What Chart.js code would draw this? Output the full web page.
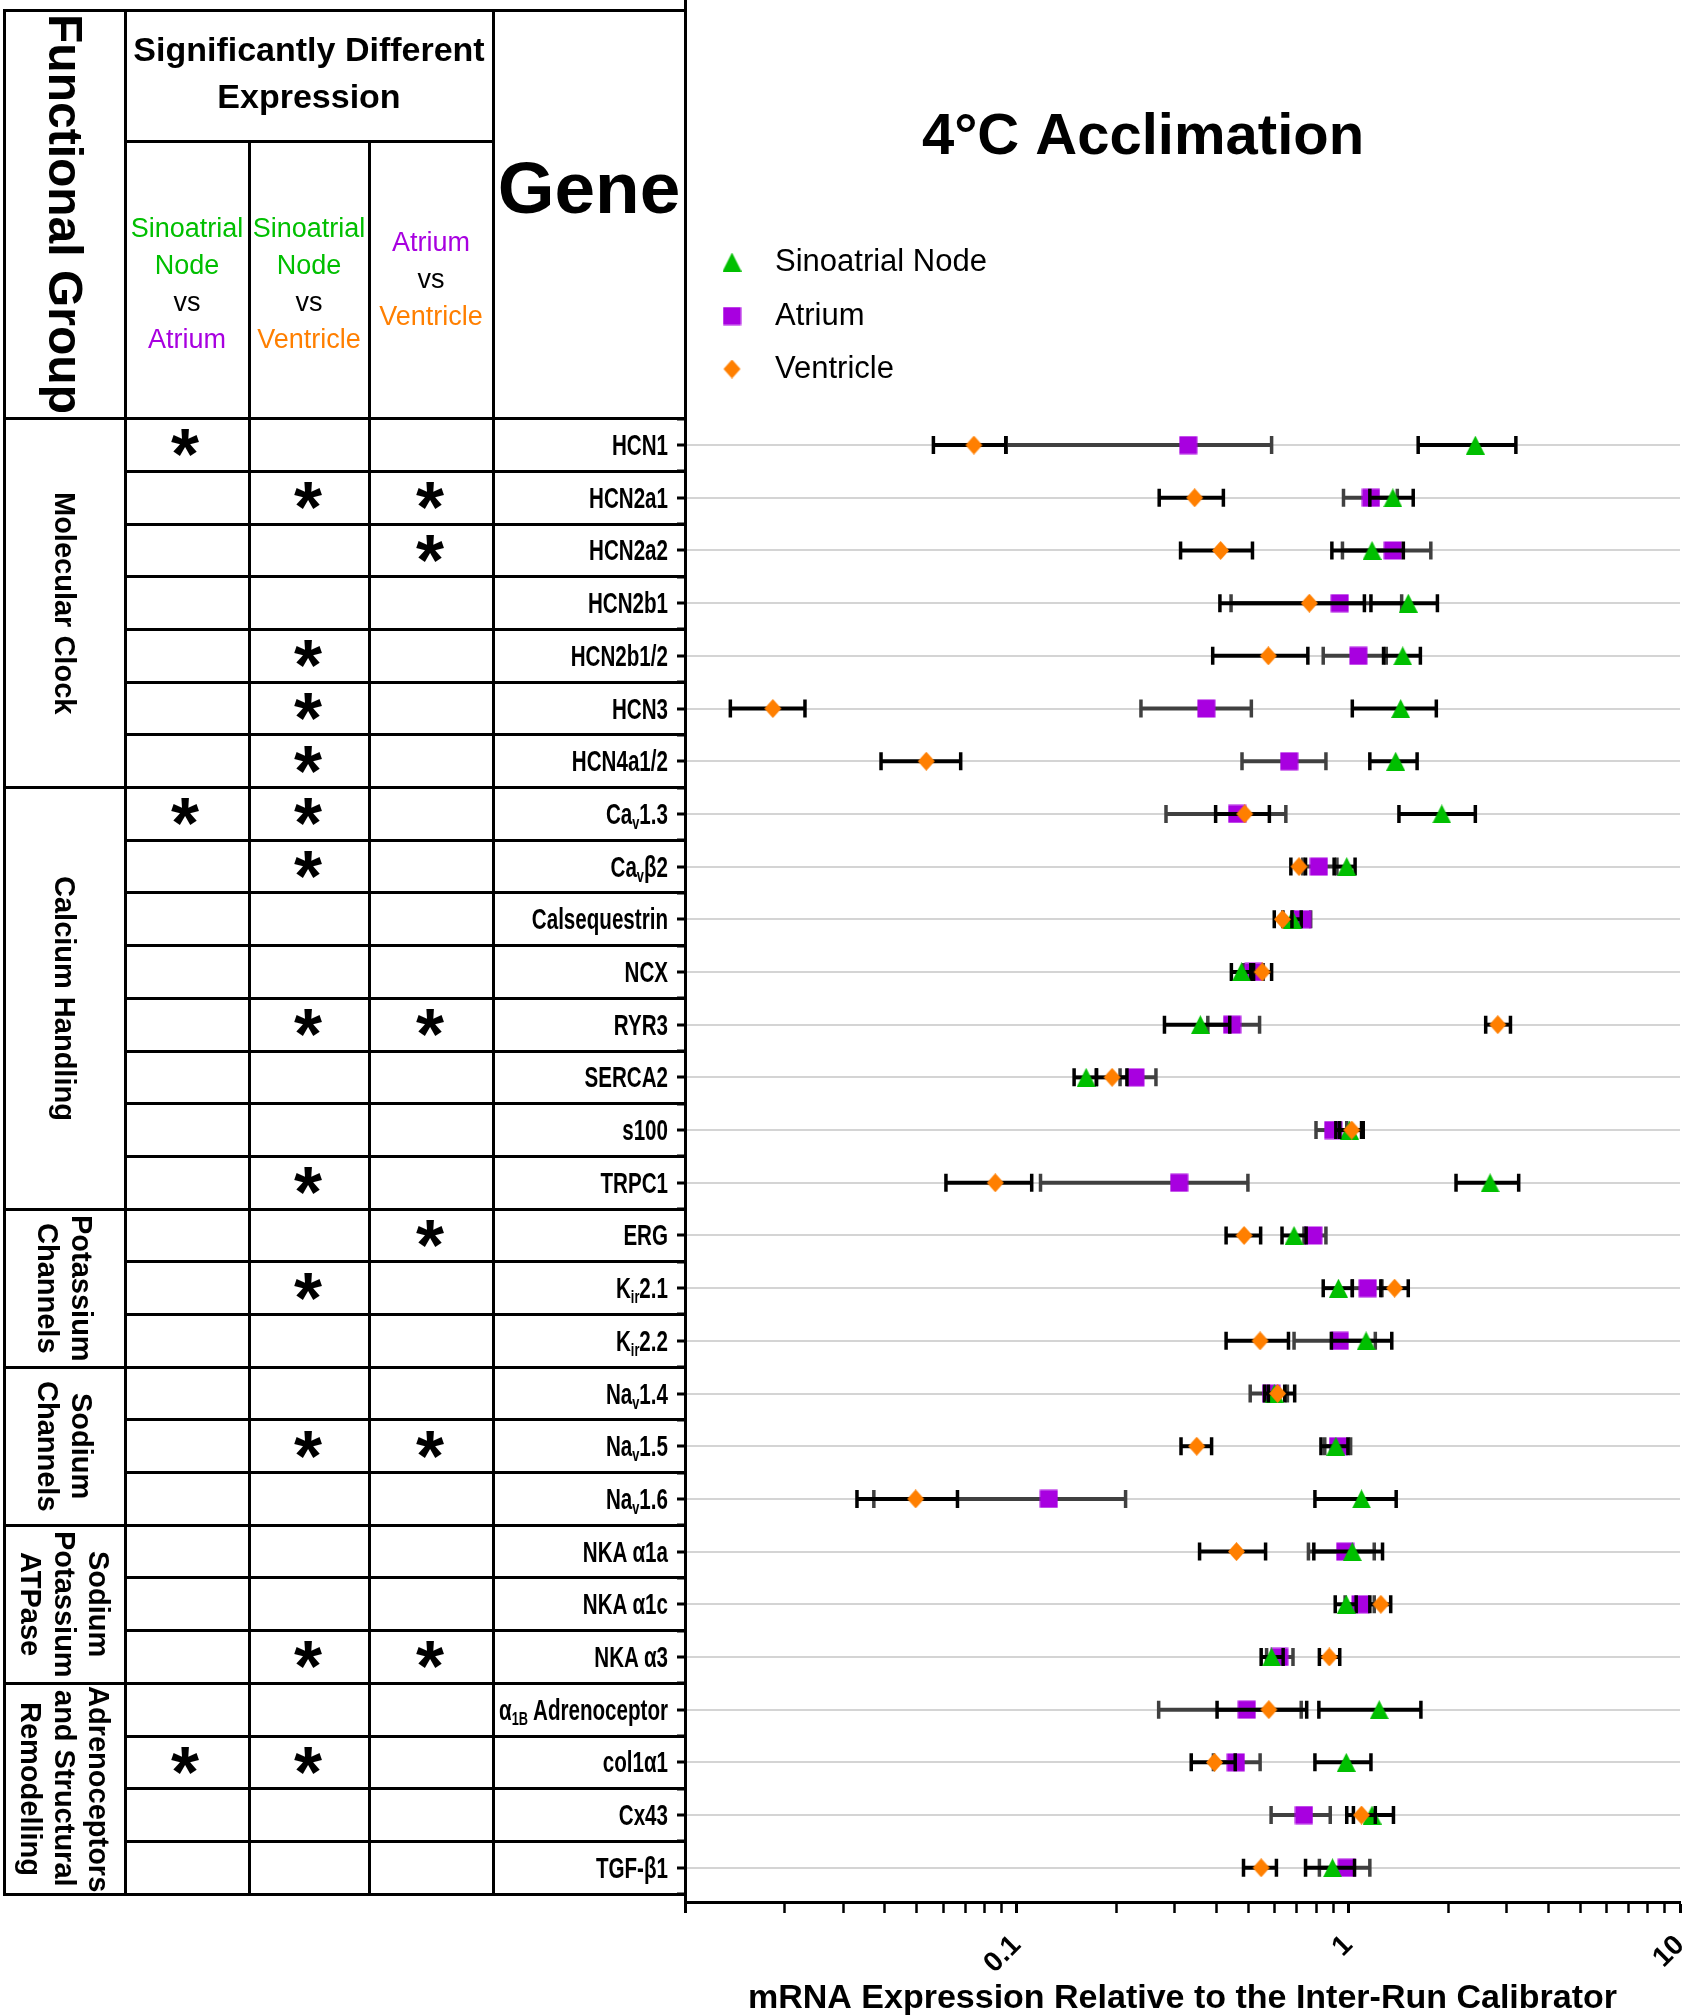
<!DOCTYPE html>
<html>
<head>
<meta charset="utf-8">
<script src="https://cdn.jsdelivr.net/npm/chart.js@4.4.1/dist/chart.umd.min.js"></script>
<style>
  html, body { margin: 0; padding: 0; background: #fff; }
  #wrap { position: relative; width: 1690px; height: 2015px; overflow: hidden; font-family: "Liberation Sans", Arial, sans-serif; color: #000; }
  #chart { position: absolute; left: 0; top: 0; }
  #overlay { position: absolute; left: 0; top: 0; width: 1690px; height: 2015px; pointer-events: none; }
  #overlay > div { position: absolute; }
  .line { background: #000; }
  .cell { display: flex; align-items: center; justify-content: center; text-align: center; }
  .vert { writing-mode: vertical-rl; white-space: pre-line; text-align: center; }
  .gene { font-weight: bold; font-size: 29px; line-height: 34px; height: 34px; text-align: right; white-space: nowrap; transform: scaleX(0.71); transform-origin: right center; }
  .gene sub { font-size: 0.62em; vertical-align: -5px; line-height: 0; }
  .star { font-weight: bold; text-align: center; }
  .g { color: #00bf00; }
  .p { color: #a800e0; }
  .o { color: #ff7f00; }
</style>
</head>
<body>
<div id="wrap">
  <canvas id="chart" width="1690" height="2015"></canvas>
  <div id="overlay"></div>
</div>
<script>
// genes (top to bottom) and functional groups
const genes = ['HCN1', 'HCN2a1', 'HCN2a2', 'HCN2b1', 'HCN2b1/2', 'HCN3', 'HCN4a1/2',
  'Ca<sub>v</sub>1.3', 'Ca<sub>v</sub>β2', 'Calsequestrin', 'NCX', 'RYR3', 'SERCA2', 's100', 'TRPC1',
  'ERG', 'K<sub>ir</sub>2.1', 'K<sub>ir</sub>2.2',
  'Na<sub>v</sub>1.4', 'Na<sub>v</sub>1.5', 'Na<sub>v</sub>1.6',
  'NKA α1a', 'NKA α1c', 'NKA α3',
  'α<sub>1B</sub> Adrenoceptor', 'col1α1', 'Cx43', 'TGF-β1'];
const groupNames = ['Molecular Clock', 'Calcium Handling', 'Potassium\nChannels', 'Sodium\nChannels',
  'Sodium\nPotassium\nATPase', 'Adrenoceptors\nand Structural\nRemodelling'];
const groupSizes = [7, 8, 3, 3, 3, 4];

// significance marks (1 = *)
const sigSanAtrium = [1,0,0,0,0,0,0, 1,0,0,0,0,0,0,0, 0,0,0, 0,0,0, 0,0,0, 0,1,0,0];
const sigSanVentricle = [0,1,0,0,1,1,1, 1,1,0,0,1,0,0,1, 0,1,0, 0,1,0, 0,0,1, 0,1,0,0];
const sigAtriumVentricle = [0,1,1,0,0,0,0, 0,0,0,0,1,0,0,0, 1,0,0, 0,1,0, 0,0,1, 0,0,0,0];

// relative mRNA expression, mean and error bar ends
const sanMean = [2.415, 1.362, 1.179, 1.516, 1.459, 1.438, 1.389, 1.913, 0.989, 0.678, 0.476, 0.358, 0.162, 1.008, 2.676, 0.686, 0.934, 1.131, 0.598, 0.917, 1.096, 1.028, 0.986, 0.587, 1.239, 0.986, 1.179, 0.896];
const sanLow = [1.624, 1.161, 0.892, 1.170, 1.277, 1.028, 1.161, 1.421, 0.906, 0.635, 0.444, 0.279, 0.149, 0.917, 2.112, 0.631, 0.840, 0.889, 0.559, 0.827, 0.793, 0.787, 0.913, 0.546, 0.815, 0.793, 1.036, 0.743];
const sanHigh = [3.20, 1.569, 1.465, 1.856, 1.649, 1.842, 1.612, 2.415, 1.048, 0.721, 0.508, 0.439, 0.174, 1.096, 3.263, 0.746, 1.028, 1.352, 0.643, 0.997, 1.394, 1.268, 1.056, 0.636, 1.655, 1.170, 1.368, 1.044];

const atriumMean = [0.329, 1.170, 1.362, 0.942, 1.072, 0.373, 0.663, 0.462, 0.815, 0.726, 0.518, 0.446, 0.228, 0.900, 0.309, 0.784, 1.144, 0.942, 0.585, 0.931, 0.125, 0.978, 1.088, 0.619, 0.494, 0.458, 0.735, 0.989];
const atriumLow = [0.093, 0.967, 0.960, 0.443, 0.840, 0.237, 0.478, 0.282, 0.729, 0.680, 0.483, 0.377, 0.205, 0.799, 0.118, 0.735, 1.028, 0.686, 0.506, 0.849, 0.0371, 0.758, 0.978, 0.567, 0.268, 0.392, 0.585, 0.818];
const atriumHigh = [0.587, 1.405, 1.773, 1.448, 1.301, 0.510, 0.856, 0.648, 0.924, 0.770, 0.554, 0.540, 0.263, 0.989, 0.498, 0.856, 1.263, 1.206, 0.655, 1.016, 0.213, 1.197, 1.197, 0.681, 0.721, 0.542, 0.882, 1.161];

const ventMean = [0.0743, 0.344, 0.412, 0.763, 0.574, 0.0184, 0.0534, 0.487, 0.710, 0.633, 0.550, 2.822, 0.194, 1.024, 0.0862, 0.485, 1.379, 0.542, 0.612, 0.349, 0.0496, 0.460, 1.253, 0.876, 0.576, 0.395, 1.096, 0.546];
const ventLow = [0.0561, 0.269, 0.312, 0.410, 0.390, 0.0137, 0.0390, 0.398, 0.671, 0.598, 0.518, 2.595, 0.174, 0.942, 0.0612, 0.428, 1.253, 0.428, 0.574, 0.313, 0.0330, 0.356, 1.161, 0.818, 0.402, 0.336, 0.989, 0.483];
const ventHigh = [0.0927, 0.420, 0.514, 1.118, 0.755, 0.0230, 0.0678, 0.578, 0.743, 0.676, 0.587, 3.082, 0.215, 1.109, 0.111, 0.544, 1.516, 0.660, 0.689, 0.387, 0.0663, 0.563, 1.342, 0.942, 0.749, 0.456, 1.206, 0.607];

// x axis ticks
const xTicks = [0.01, 0.02, 0.03, 0.04, 0.05, 0.06, 0.07, 0.08, 0.09,
  0.1, 0.2, 0.3, 0.4, 0.5, 0.6, 0.7, 0.8, 0.9,
  1, 2, 3, 4, 5, 6, 7, 8, 9, 10];
const xMajor = [0.01, 0.1, 1, 10];
const xTickLabels = ['0.1', '1', '10'];

const GREEN = '#00bf00', PURPLE = '#a800e0', ORANGE = '#ff7f00';

// marker shapes as small canvases
function markerImg(shape, color) {
  const c = document.createElement('canvas');
  c.width = 19; c.height = 19;
  const g = c.getContext('2d');
  g.fillStyle = color;
  g.beginPath();
  if (shape === 'triangle') {
    g.moveTo(9.5, 0); g.lineTo(19, 19); g.lineTo(0, 19);
  } else if (shape === 'square') {
    g.rect(0.5, 0.5, 18, 18);
  } else {
    g.moveTo(9.5, 0); g.lineTo(18, 9.5); g.lineTo(9.5, 19); g.lineTo(1, 9.5);
  }
  g.closePath();
  g.fill();
  return c;
}

function series(label, mean, low, high, shape, color, barColor, order) {
  return {
    label: label,
    data: mean.map((v, i) => ({ x: v, y: i + 1 })),
    errLow: low,
    errHigh: high,
    barColor: barColor,
    pointStyle: markerImg(shape, color),
    pointRadius: 9,
    backgroundColor: color,
    borderColor: color,
    showLine: false,
    order: order
  };
}

// horizontal error bars, drawn under each series' own markers
const errorBars = {
  id: 'errorBars',
  beforeDatasetDraw(chart, args) {
    const ds = chart.data.datasets[args.index];
    const xs = chart.scales.x, ys = chart.scales.y, ctx = chart.ctx;
    ctx.save();
    ctx.strokeStyle = ds.barColor;
    ds.data.forEach((p, i) => {
      const x0 = xs.getPixelForValue(ds.errLow[i]);
      const x1 = xs.getPixelForValue(ds.errHigh[i]);
      const y = ys.getPixelForValue(p.y);
      ctx.lineWidth = 4;
      ctx.beginPath();
      ctx.moveTo(x0, y); ctx.lineTo(x1, y);
      ctx.stroke();
      ctx.lineWidth = 3.5;
      ctx.beginPath();
      ctx.moveTo(x0, y - 9); ctx.lineTo(x0, y + 9);
      ctx.moveTo(x1, y - 9); ctx.lineTo(x1, y + 9);
      ctx.stroke();
    });
    ctx.restore();
  }
};

// vertical legend above the plot
const sideLegend = {
  id: 'sideLegend',
  afterDraw(chart) {
    const ctx = chart.ctx;
    const rows = [262, 316, 369];
    ctx.save();
    ctx.font = '31px "Liberation Sans", Arial, sans-serif';
    ctx.fillStyle = '#000';
    ctx.textBaseline = 'middle';
    chart.data.datasets.forEach((ds, i) => {
      const img = ds.pointStyle;
      ctx.drawImage(img, 732 - img.width / 2, rows[i] - img.height / 2);
      ctx.fillText(ds.label, 775, rows[i]);
    });
    ctx.restore();
  }
};

const chart = new Chart(document.getElementById('chart'), {
  type: 'scatter',
  data: {
    datasets: [
      series('Sinoatrial Node', sanMean, sanLow, sanHigh, 'triangle', GREEN, '#000', 1),
      series('Atrium', atriumMean, atriumLow, atriumHigh, 'square', PURPLE, '#404040', 2),
      series('Ventricle', ventMean, ventLow, ventHigh, 'diamond', ORANGE, '#000', 0)
    ]
  },
  options: {
    responsive: false,
    animation: false,
    devicePixelRatio: 1,
    layout: { padding: { left: 596, right: 0, top: 0, bottom: 0 } },
    plugins: {
      legend: { display: false },
      tooltip: { enabled: false },
      title: {
        display: true,
        text: '4°C Acclimation',
        color: '#000',
        font: { family: '"Liberation Sans", Arial, sans-serif', size: 58, weight: 'bold', lineHeight: 1.2 },
        padding: { top: 103, bottom: 234 }
      }
    },
    scales: {
      x: {
        type: 'logarithmic',
        position: 'bottom',
        min: 0.01,
        max: 10,
        afterBuildTicks: (scale) => { scale.ticks = xTicks.map(v => ({ value: v })); },
        afterFit: (scale) => { scale.height = 113; scale.paddingRight = 9; scale.paddingLeft = 0; },
        border: { color: '#000', width: 3 },
        grid: {
          drawOnChartArea: false,
          tickLength: 11,
          tickColor: '#000',
          tickWidth: (c) => (c.tick && xMajor.includes(c.tick.value)) ? 3 : 2.5
        },
        ticks: {
          autoSkip: false,
          minRotation: 45,
          maxRotation: 45,
          padding: 16,
          color: '#000',
          font: { family: '"Liberation Sans Narrow", "Liberation Sans", Arial, sans-serif', size: 28, weight: 'bold' },
          callback: (v) => xTickLabels.find(l => Math.abs(Math.log10(+l) - Math.log10(v)) < 1e-6) || ''
        },
        title: {
          display: true,
          text: 'mRNA Expression Relative to the Inter-Run Calibrator',
          color: '#000',
          font: { family: '"Liberation Sans", Arial, sans-serif', size: 34, weight: 'bold', lineHeight: 1.2 },
          padding: { top: 0, bottom: -4 }
        }
      },
      y: {
        type: 'linear',
        reverse: true,
        min: 0.27,
        max: 28.65,
        afterFit: (scale) => { scale.width = 89; },
        border: { color: '#000', width: 3 },
        grid: {
          color: (c) => (c.tick && Number.isInteger(c.tick.value)) ? '#d4d4d4' : 'rgba(0,0,0,0)',
          lineWidth: 2,
          tickColor: '#000',
          tickWidth: 3,
          tickLength: 8
        },
        ticks: { stepSize: 0.5, includeBounds: false, autoSkip: false, callback: () => '' }
      }
    }
  },
  plugins: [errorBars, sideLegend]
});

// left-hand table, aligned to the chart's y scale
const ov = document.getElementById('overlay');
const yPix = (v) => chart.scales.y.getPixelForValue(v);
const colX = [4, 125, 249, 369, 493, 685];
const starX = [185, 308, 430];

function addDiv(cls, style, html) {
  const d = document.createElement('div');
  d.className = cls;
  d.style.cssText = style;
  d.innerHTML = html;
  ov.appendChild(d);
  return d;
}
function hline(x0, x1, y) { addDiv('line', `left:${x0 - 1.5}px;top:${y - 1.5}px;width:${x1 - x0 + 3}px;height:3px;`, ''); }
function vline(x, y0, y1) { addDiv('line', `left:${x - 1.5}px;top:${y0 - 1.5}px;width:3px;height:${y1 - y0 + 3}px;`, ''); }

const top0 = 10, headMid = 141, headBot = yPix(0.5), bot = yPix(genes.length + 0.5);

// header cells
addDiv('cell', `left:${colX[0]}px;top:${top0}px;width:${colX[1] - colX[0]}px;height:${headBot - top0}px;`,
  '<div class="vert" style="font-weight:bold;font-size:48px;line-height:56px;">Functional Group</div>');
addDiv('cell', `left:${colX[1]}px;top:${top0 - 3}px;width:${colX[4] - colX[1]}px;height:${headMid - top0}px;font-weight:bold;font-size:34px;line-height:47px;`,
  '<div>Significantly Different<br>Expression</div>');
const subHeads = [
  '<span class="g">Sinoatrial<br>Node</span><br>vs<br><span class="p">Atrium</span>',
  '<span class="g">Sinoatrial<br>Node</span><br>vs<br><span class="o">Ventricle</span>',
  '<span class="p">Atrium</span><br>vs<br><span class="o">Ventricle</span>'
];
const subShift = [4, 4, 0];
subHeads.forEach((h, k) => {
  addDiv('cell', `left:${colX[k + 1]}px;top:${headMid + subShift[k]}px;width:${colX[k + 2] - colX[k + 1]}px;height:${headBot - headMid}px;font-size:27px;line-height:37px;`, `<div>${h}</div>`);
});
addDiv('cell', `left:${colX[4]}px;top:${top0}px;width:${colX[5] - colX[4]}px;height:355px;font-weight:bold;font-size:73px;line-height:80px;`, '<div>Gene</div>');

// grid lines
hline(colX[0], colX[5], top0);
hline(colX[1], colX[4], headMid);
hline(colX[0], colX[5], headBot);
vline(colX[0], top0, bot);
vline(colX[1], top0, bot);
vline(colX[2], headMid, bot);
vline(colX[3], headMid, bot);
vline(colX[4], top0, bot);
vline(colX[5], 0, headBot);

const groupEnds = [];
groupSizes.reduce((acc, n) => { groupEnds.push(acc + n); return acc + n; }, 0);
for (let k = 1; k <= genes.length; k++) {
  const y = yPix(k + 0.5);
  hline(groupEnds.includes(k) ? colX[0] : colX[1], colX[5], y);
}

// group labels
let start = 0;
groupNames.forEach((name, g) => {
  const y0 = yPix(start + 0.5), y1 = yPix(start + groupSizes[g] + 0.5);
  addDiv('cell', `left:${colX[0]}px;top:${y0}px;width:${colX[1] - colX[0]}px;height:${y1 - y0}px;`,
    `<div class="vert" style="font-weight:bold;font-size:29px;line-height:34px;">${name}</div>`);
  start += groupSizes[g];
});

// gene labels and significance stars
const sigCols = [sigSanAtrium, sigSanVentricle, sigAtriumVentricle];
const starSize = 72;
genes.forEach((gene, i) => {
  const yc = yPix(i + 1);
  addDiv('gene', `left:300px;width:368px;top:${yc - 17}px;`, gene);
  sigCols.forEach((col, k) => {
    if (col[i]) {
      addDiv('star', `left:${starX[k] - 50}px;width:100px;top:${yc - 0.2865 * starSize - 6}px;font-size:${starSize}px;line-height:${starSize}px;`, '*');
    }
  });
});
</script>
</body>
</html>
